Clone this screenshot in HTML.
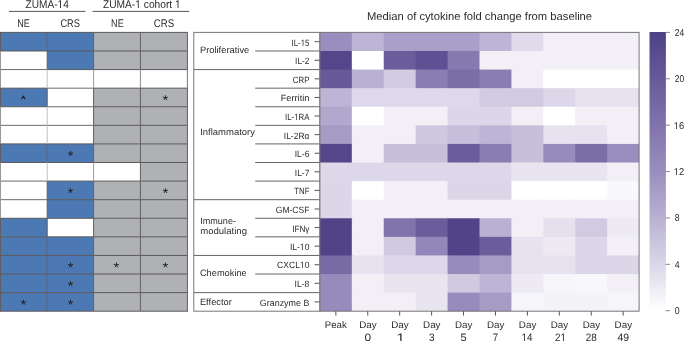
<!DOCTYPE html>
<html><head><meta charset="utf-8"><style>
html,body{margin:0;padding:0;background:#fff;}
svg{display:block;will-change:transform;text-rendering:geometricPrecision;}
</style></head><body>
<svg width="685" height="341" viewBox="0 0 685 341" font-family='"Liberation Sans", sans-serif' fill="#2b2b2b">
<rect width="685" height="341" fill="#fff"/>
<rect x="0.50" y="32.40" width="46.70" height="18.587" fill="#4c78b4"/>
<rect x="47.20" y="32.40" width="46.40" height="18.587" fill="#4c78b4"/>
<rect x="93.60" y="32.40" width="46.80" height="18.587" fill="#b0b1b4"/>
<rect x="140.40" y="32.40" width="47.00" height="18.587" fill="#b0b1b4"/>
<rect x="47.20" y="50.99" width="46.40" height="18.587" fill="#4c78b4"/>
<rect x="93.60" y="50.99" width="46.80" height="18.587" fill="#b0b1b4"/>
<rect x="140.40" y="50.99" width="47.00" height="18.587" fill="#b0b1b4"/>
<rect x="0.50" y="88.16" width="46.70" height="18.587" fill="#4c78b4"/>
<rect x="93.60" y="88.16" width="46.80" height="18.587" fill="#b0b1b4"/>
<rect x="140.40" y="88.16" width="47.00" height="18.587" fill="#b0b1b4"/>
<rect x="93.60" y="106.75" width="46.80" height="18.587" fill="#b0b1b4"/>
<rect x="140.40" y="106.75" width="47.00" height="18.587" fill="#b0b1b4"/>
<rect x="93.60" y="125.33" width="46.80" height="18.587" fill="#b0b1b4"/>
<rect x="140.40" y="125.33" width="47.00" height="18.587" fill="#b0b1b4"/>
<rect x="0.50" y="143.92" width="46.70" height="18.587" fill="#4c78b4"/>
<rect x="47.20" y="143.92" width="46.40" height="18.587" fill="#4c78b4"/>
<rect x="93.60" y="143.92" width="46.80" height="18.587" fill="#b0b1b4"/>
<rect x="140.40" y="143.92" width="47.00" height="18.587" fill="#b0b1b4"/>
<rect x="140.40" y="162.51" width="47.00" height="18.587" fill="#b0b1b4"/>
<rect x="47.20" y="181.09" width="46.40" height="18.587" fill="#4c78b4"/>
<rect x="93.60" y="181.09" width="46.80" height="18.587" fill="#b0b1b4"/>
<rect x="140.40" y="181.09" width="47.00" height="18.587" fill="#b0b1b4"/>
<rect x="47.20" y="199.68" width="46.40" height="18.587" fill="#4c78b4"/>
<rect x="93.60" y="199.68" width="46.80" height="18.587" fill="#b0b1b4"/>
<rect x="140.40" y="199.68" width="47.00" height="18.587" fill="#b0b1b4"/>
<rect x="0.50" y="218.27" width="46.70" height="18.587" fill="#4c78b4"/>
<rect x="93.60" y="218.27" width="46.80" height="18.587" fill="#b0b1b4"/>
<rect x="140.40" y="218.27" width="47.00" height="18.587" fill="#b0b1b4"/>
<rect x="0.50" y="236.85" width="46.70" height="18.587" fill="#4c78b4"/>
<rect x="47.20" y="236.85" width="46.40" height="18.587" fill="#4c78b4"/>
<rect x="93.60" y="236.85" width="46.80" height="18.587" fill="#b0b1b4"/>
<rect x="140.40" y="236.85" width="47.00" height="18.587" fill="#b0b1b4"/>
<rect x="0.50" y="255.44" width="46.70" height="18.587" fill="#4c78b4"/>
<rect x="47.20" y="255.44" width="46.40" height="18.587" fill="#4c78b4"/>
<rect x="93.60" y="255.44" width="46.80" height="18.587" fill="#b0b1b4"/>
<rect x="140.40" y="255.44" width="47.00" height="18.587" fill="#b0b1b4"/>
<rect x="0.50" y="274.03" width="46.70" height="18.587" fill="#4c78b4"/>
<rect x="47.20" y="274.03" width="46.40" height="18.587" fill="#4c78b4"/>
<rect x="93.60" y="274.03" width="46.80" height="18.587" fill="#b0b1b4"/>
<rect x="140.40" y="274.03" width="47.00" height="18.587" fill="#b0b1b4"/>
<rect x="0.50" y="292.61" width="46.70" height="18.587" fill="#4c78b4"/>
<rect x="47.20" y="292.61" width="46.40" height="18.587" fill="#4c78b4"/>
<rect x="93.60" y="292.61" width="46.80" height="18.587" fill="#b0b1b4"/>
<rect x="140.40" y="292.61" width="47.00" height="18.587" fill="#b0b1b4"/>
<line x1="0.0" y1="32.40" x2="47.2" y2="32.40" stroke="#5a5a5a" stroke-width="1"/>
<line x1="47.2" y1="32.40" x2="93.6" y2="32.40" stroke="#5a5a5a" stroke-width="1"/>
<line x1="93.6" y1="32.40" x2="140.4" y2="32.40" stroke="#5a5a5a" stroke-width="1"/>
<line x1="140.4" y1="32.40" x2="187.9" y2="32.40" stroke="#5a5a5a" stroke-width="1"/>
<line x1="0.0" y1="50.99" x2="47.2" y2="50.99" stroke="#5a5a5a" stroke-width="1"/>
<line x1="47.2" y1="50.99" x2="93.6" y2="50.99" stroke="#5a5a5a" stroke-width="1"/>
<line x1="93.6" y1="50.99" x2="140.4" y2="50.99" stroke="#5a5a5a" stroke-width="1"/>
<line x1="140.4" y1="50.99" x2="187.9" y2="50.99" stroke="#5a5a5a" stroke-width="1"/>
<line x1="0.0" y1="69.57" x2="47.2" y2="69.57" stroke="#6a6a6a" stroke-width="1"/>
<line x1="47.2" y1="69.57" x2="93.6" y2="69.57" stroke="#5a5a5a" stroke-width="1"/>
<line x1="93.6" y1="69.57" x2="140.4" y2="69.57" stroke="#5a5a5a" stroke-width="1"/>
<line x1="140.4" y1="69.57" x2="187.9" y2="69.57" stroke="#5a5a5a" stroke-width="1"/>
<line x1="0.0" y1="88.16" x2="47.2" y2="88.16" stroke="#5a5a5a" stroke-width="1"/>
<line x1="47.2" y1="88.16" x2="93.6" y2="88.16" stroke="#6a6a6a" stroke-width="1"/>
<line x1="93.6" y1="88.16" x2="140.4" y2="88.16" stroke="#5a5a5a" stroke-width="1"/>
<line x1="140.4" y1="88.16" x2="187.9" y2="88.16" stroke="#5a5a5a" stroke-width="1"/>
<line x1="0.0" y1="106.75" x2="47.2" y2="106.75" stroke="#5a5a5a" stroke-width="1"/>
<line x1="47.2" y1="106.75" x2="93.6" y2="106.75" stroke="#6a6a6a" stroke-width="1"/>
<line x1="93.6" y1="106.75" x2="140.4" y2="106.75" stroke="#5a5a5a" stroke-width="1"/>
<line x1="140.4" y1="106.75" x2="187.9" y2="106.75" stroke="#5a5a5a" stroke-width="1"/>
<line x1="0.0" y1="125.33" x2="47.2" y2="125.33" stroke="#6a6a6a" stroke-width="1"/>
<line x1="47.2" y1="125.33" x2="93.6" y2="125.33" stroke="#6a6a6a" stroke-width="1"/>
<line x1="93.6" y1="125.33" x2="140.4" y2="125.33" stroke="#5a5a5a" stroke-width="1"/>
<line x1="140.4" y1="125.33" x2="187.9" y2="125.33" stroke="#5a5a5a" stroke-width="1"/>
<line x1="0.0" y1="143.92" x2="47.2" y2="143.92" stroke="#5a5a5a" stroke-width="1"/>
<line x1="47.2" y1="143.92" x2="93.6" y2="143.92" stroke="#5a5a5a" stroke-width="1"/>
<line x1="93.6" y1="143.92" x2="140.4" y2="143.92" stroke="#5a5a5a" stroke-width="1"/>
<line x1="140.4" y1="143.92" x2="187.9" y2="143.92" stroke="#5a5a5a" stroke-width="1"/>
<line x1="0.0" y1="162.51" x2="47.2" y2="162.51" stroke="#5a5a5a" stroke-width="1"/>
<line x1="47.2" y1="162.51" x2="93.6" y2="162.51" stroke="#5a5a5a" stroke-width="1"/>
<line x1="93.6" y1="162.51" x2="140.4" y2="162.51" stroke="#5a5a5a" stroke-width="1"/>
<line x1="140.4" y1="162.51" x2="187.9" y2="162.51" stroke="#5a5a5a" stroke-width="1"/>
<line x1="0.0" y1="181.09" x2="47.2" y2="181.09" stroke="#6a6a6a" stroke-width="1"/>
<line x1="47.2" y1="181.09" x2="93.6" y2="181.09" stroke="#5a5a5a" stroke-width="1"/>
<line x1="93.6" y1="181.09" x2="140.4" y2="181.09" stroke="#5a5a5a" stroke-width="1"/>
<line x1="140.4" y1="181.09" x2="187.9" y2="181.09" stroke="#5a5a5a" stroke-width="1"/>
<line x1="0.0" y1="199.68" x2="47.2" y2="199.68" stroke="#6a6a6a" stroke-width="1"/>
<line x1="47.2" y1="199.68" x2="93.6" y2="199.68" stroke="#5a5a5a" stroke-width="1"/>
<line x1="93.6" y1="199.68" x2="140.4" y2="199.68" stroke="#5a5a5a" stroke-width="1"/>
<line x1="140.4" y1="199.68" x2="187.9" y2="199.68" stroke="#5a5a5a" stroke-width="1"/>
<line x1="0.0" y1="218.27" x2="47.2" y2="218.27" stroke="#5a5a5a" stroke-width="1"/>
<line x1="47.2" y1="218.27" x2="93.6" y2="218.27" stroke="#5a5a5a" stroke-width="1"/>
<line x1="93.6" y1="218.27" x2="140.4" y2="218.27" stroke="#5a5a5a" stroke-width="1"/>
<line x1="140.4" y1="218.27" x2="187.9" y2="218.27" stroke="#5a5a5a" stroke-width="1"/>
<line x1="0.0" y1="236.85" x2="47.2" y2="236.85" stroke="#5a5a5a" stroke-width="1"/>
<line x1="47.2" y1="236.85" x2="93.6" y2="236.85" stroke="#5a5a5a" stroke-width="1"/>
<line x1="93.6" y1="236.85" x2="140.4" y2="236.85" stroke="#5a5a5a" stroke-width="1"/>
<line x1="140.4" y1="236.85" x2="187.9" y2="236.85" stroke="#5a5a5a" stroke-width="1"/>
<line x1="0.0" y1="255.44" x2="47.2" y2="255.44" stroke="#5a5a5a" stroke-width="1"/>
<line x1="47.2" y1="255.44" x2="93.6" y2="255.44" stroke="#5a5a5a" stroke-width="1"/>
<line x1="93.6" y1="255.44" x2="140.4" y2="255.44" stroke="#5a5a5a" stroke-width="1"/>
<line x1="140.4" y1="255.44" x2="187.9" y2="255.44" stroke="#5a5a5a" stroke-width="1"/>
<line x1="0.0" y1="274.03" x2="47.2" y2="274.03" stroke="#5a5a5a" stroke-width="1"/>
<line x1="47.2" y1="274.03" x2="93.6" y2="274.03" stroke="#5a5a5a" stroke-width="1"/>
<line x1="93.6" y1="274.03" x2="140.4" y2="274.03" stroke="#5a5a5a" stroke-width="1"/>
<line x1="140.4" y1="274.03" x2="187.9" y2="274.03" stroke="#5a5a5a" stroke-width="1"/>
<line x1="0.0" y1="292.61" x2="47.2" y2="292.61" stroke="#5a5a5a" stroke-width="1"/>
<line x1="47.2" y1="292.61" x2="93.6" y2="292.61" stroke="#5a5a5a" stroke-width="1"/>
<line x1="93.6" y1="292.61" x2="140.4" y2="292.61" stroke="#5a5a5a" stroke-width="1"/>
<line x1="140.4" y1="292.61" x2="187.9" y2="292.61" stroke="#5a5a5a" stroke-width="1"/>
<line x1="0.0" y1="311.20" x2="47.2" y2="311.20" stroke="#5a5a5a" stroke-width="1"/>
<line x1="47.2" y1="311.20" x2="93.6" y2="311.20" stroke="#5a5a5a" stroke-width="1"/>
<line x1="93.6" y1="311.20" x2="140.4" y2="311.20" stroke="#5a5a5a" stroke-width="1"/>
<line x1="140.4" y1="311.20" x2="187.9" y2="311.20" stroke="#5a5a5a" stroke-width="1"/>
<line x1="0.5" y1="32.40" x2="0.5" y2="50.99" stroke="#5f5f5f" stroke-width="1"/>
<line x1="0.5" y1="50.99" x2="0.5" y2="69.57" stroke="#999999" stroke-width="1"/>
<line x1="0.5" y1="69.57" x2="0.5" y2="88.16" stroke="#999999" stroke-width="1"/>
<line x1="0.5" y1="88.16" x2="0.5" y2="106.75" stroke="#5f5f5f" stroke-width="1"/>
<line x1="0.5" y1="106.75" x2="0.5" y2="125.33" stroke="#999999" stroke-width="1"/>
<line x1="0.5" y1="125.33" x2="0.5" y2="143.92" stroke="#999999" stroke-width="1"/>
<line x1="0.5" y1="143.92" x2="0.5" y2="162.51" stroke="#5f5f5f" stroke-width="1"/>
<line x1="0.5" y1="162.51" x2="0.5" y2="181.09" stroke="#999999" stroke-width="1"/>
<line x1="0.5" y1="181.09" x2="0.5" y2="199.68" stroke="#999999" stroke-width="1"/>
<line x1="0.5" y1="199.68" x2="0.5" y2="218.27" stroke="#999999" stroke-width="1"/>
<line x1="0.5" y1="218.27" x2="0.5" y2="236.85" stroke="#5f5f5f" stroke-width="1"/>
<line x1="0.5" y1="236.85" x2="0.5" y2="255.44" stroke="#5f5f5f" stroke-width="1"/>
<line x1="0.5" y1="255.44" x2="0.5" y2="274.03" stroke="#5f5f5f" stroke-width="1"/>
<line x1="0.5" y1="274.03" x2="0.5" y2="292.61" stroke="#5f5f5f" stroke-width="1"/>
<line x1="0.5" y1="292.61" x2="0.5" y2="311.20" stroke="#5f5f5f" stroke-width="1"/>
<line x1="47.2" y1="32.40" x2="47.2" y2="50.99" stroke="#5f5f5f" stroke-width="1"/>
<line x1="47.2" y1="50.99" x2="47.2" y2="69.57" stroke="#5f5f5f" stroke-width="1"/>
<line x1="47.2" y1="69.57" x2="47.2" y2="88.16" stroke="#c0c0c0" stroke-width="1"/>
<line x1="47.2" y1="88.16" x2="47.2" y2="106.75" stroke="#5f5f5f" stroke-width="1"/>
<line x1="47.2" y1="106.75" x2="47.2" y2="125.33" stroke="#c0c0c0" stroke-width="1"/>
<line x1="47.2" y1="125.33" x2="47.2" y2="143.92" stroke="#c0c0c0" stroke-width="1"/>
<line x1="47.2" y1="143.92" x2="47.2" y2="162.51" stroke="#5f5f5f" stroke-width="1"/>
<line x1="47.2" y1="162.51" x2="47.2" y2="181.09" stroke="#c0c0c0" stroke-width="1"/>
<line x1="47.2" y1="181.09" x2="47.2" y2="199.68" stroke="#5f5f5f" stroke-width="1"/>
<line x1="47.2" y1="199.68" x2="47.2" y2="218.27" stroke="#5f5f5f" stroke-width="1"/>
<line x1="47.2" y1="218.27" x2="47.2" y2="236.85" stroke="#5f5f5f" stroke-width="1"/>
<line x1="47.2" y1="236.85" x2="47.2" y2="255.44" stroke="#5f5f5f" stroke-width="1"/>
<line x1="47.2" y1="255.44" x2="47.2" y2="274.03" stroke="#5f5f5f" stroke-width="1"/>
<line x1="47.2" y1="274.03" x2="47.2" y2="292.61" stroke="#5f5f5f" stroke-width="1"/>
<line x1="47.2" y1="292.61" x2="47.2" y2="311.20" stroke="#5f5f5f" stroke-width="1"/>
<line x1="93.6" y1="32.40" x2="93.6" y2="50.99" stroke="#5f5f5f" stroke-width="1"/>
<line x1="93.6" y1="50.99" x2="93.6" y2="69.57" stroke="#5f5f5f" stroke-width="1"/>
<line x1="93.6" y1="69.57" x2="93.6" y2="88.16" stroke="#9a9a9a" stroke-width="1"/>
<line x1="93.6" y1="88.16" x2="93.6" y2="106.75" stroke="#5f5f5f" stroke-width="1"/>
<line x1="93.6" y1="106.75" x2="93.6" y2="125.33" stroke="#5f5f5f" stroke-width="1"/>
<line x1="93.6" y1="125.33" x2="93.6" y2="143.92" stroke="#5f5f5f" stroke-width="1"/>
<line x1="93.6" y1="143.92" x2="93.6" y2="162.51" stroke="#5f5f5f" stroke-width="1"/>
<line x1="93.6" y1="162.51" x2="93.6" y2="181.09" stroke="#9a9a9a" stroke-width="1"/>
<line x1="93.6" y1="181.09" x2="93.6" y2="199.68" stroke="#5f5f5f" stroke-width="1"/>
<line x1="93.6" y1="199.68" x2="93.6" y2="218.27" stroke="#5f5f5f" stroke-width="1"/>
<line x1="93.6" y1="218.27" x2="93.6" y2="236.85" stroke="#5f5f5f" stroke-width="1"/>
<line x1="93.6" y1="236.85" x2="93.6" y2="255.44" stroke="#5f5f5f" stroke-width="1"/>
<line x1="93.6" y1="255.44" x2="93.6" y2="274.03" stroke="#5f5f5f" stroke-width="1"/>
<line x1="93.6" y1="274.03" x2="93.6" y2="292.61" stroke="#5f5f5f" stroke-width="1"/>
<line x1="93.6" y1="292.61" x2="93.6" y2="311.20" stroke="#5f5f5f" stroke-width="1"/>
<line x1="140.4" y1="32.40" x2="140.4" y2="50.99" stroke="#5f5f5f" stroke-width="1"/>
<line x1="140.4" y1="50.99" x2="140.4" y2="69.57" stroke="#5f5f5f" stroke-width="1"/>
<line x1="140.4" y1="69.57" x2="140.4" y2="88.16" stroke="#8a8a8a" stroke-width="1"/>
<line x1="140.4" y1="88.16" x2="140.4" y2="106.75" stroke="#5f5f5f" stroke-width="1"/>
<line x1="140.4" y1="106.75" x2="140.4" y2="125.33" stroke="#5f5f5f" stroke-width="1"/>
<line x1="140.4" y1="125.33" x2="140.4" y2="143.92" stroke="#5f5f5f" stroke-width="1"/>
<line x1="140.4" y1="143.92" x2="140.4" y2="162.51" stroke="#5f5f5f" stroke-width="1"/>
<line x1="140.4" y1="162.51" x2="140.4" y2="181.09" stroke="#5f5f5f" stroke-width="1"/>
<line x1="140.4" y1="181.09" x2="140.4" y2="199.68" stroke="#5f5f5f" stroke-width="1"/>
<line x1="140.4" y1="199.68" x2="140.4" y2="218.27" stroke="#5f5f5f" stroke-width="1"/>
<line x1="140.4" y1="218.27" x2="140.4" y2="236.85" stroke="#5f5f5f" stroke-width="1"/>
<line x1="140.4" y1="236.85" x2="140.4" y2="255.44" stroke="#5f5f5f" stroke-width="1"/>
<line x1="140.4" y1="255.44" x2="140.4" y2="274.03" stroke="#5f5f5f" stroke-width="1"/>
<line x1="140.4" y1="274.03" x2="140.4" y2="292.61" stroke="#5f5f5f" stroke-width="1"/>
<line x1="140.4" y1="292.61" x2="140.4" y2="311.20" stroke="#5f5f5f" stroke-width="1"/>
<line x1="187.4" y1="32.40" x2="187.4" y2="50.99" stroke="#5f5f5f" stroke-width="1"/>
<line x1="187.4" y1="50.99" x2="187.4" y2="69.57" stroke="#5f5f5f" stroke-width="1"/>
<line x1="187.4" y1="69.57" x2="187.4" y2="88.16" stroke="#777777" stroke-width="1"/>
<line x1="187.4" y1="88.16" x2="187.4" y2="106.75" stroke="#5f5f5f" stroke-width="1"/>
<line x1="187.4" y1="106.75" x2="187.4" y2="125.33" stroke="#5f5f5f" stroke-width="1"/>
<line x1="187.4" y1="125.33" x2="187.4" y2="143.92" stroke="#5f5f5f" stroke-width="1"/>
<line x1="187.4" y1="143.92" x2="187.4" y2="162.51" stroke="#5f5f5f" stroke-width="1"/>
<line x1="187.4" y1="162.51" x2="187.4" y2="181.09" stroke="#5f5f5f" stroke-width="1"/>
<line x1="187.4" y1="181.09" x2="187.4" y2="199.68" stroke="#5f5f5f" stroke-width="1"/>
<line x1="187.4" y1="199.68" x2="187.4" y2="218.27" stroke="#5f5f5f" stroke-width="1"/>
<line x1="187.4" y1="218.27" x2="187.4" y2="236.85" stroke="#5f5f5f" stroke-width="1"/>
<line x1="187.4" y1="236.85" x2="187.4" y2="255.44" stroke="#5f5f5f" stroke-width="1"/>
<line x1="187.4" y1="255.44" x2="187.4" y2="274.03" stroke="#5f5f5f" stroke-width="1"/>
<line x1="187.4" y1="274.03" x2="187.4" y2="292.61" stroke="#5f5f5f" stroke-width="1"/>
<line x1="187.4" y1="292.61" x2="187.4" y2="311.20" stroke="#5f5f5f" stroke-width="1"/>
<path d="M21.65 98.75L23.45 96.15L24.95 98.75" stroke="#1e1e1e" stroke-width="1.1" stroke-linecap="round" stroke-linejoin="round" fill="none"/>
<path d="M165.40 97.90L165.40 95.65M165.40 97.90L167.54 97.21M165.40 97.90L166.72 99.72M165.40 97.90L164.08 99.72M165.40 97.90L163.26 97.21" stroke="#222" stroke-width="0.95" stroke-linecap="round" fill="none"/>
<path d="M70.50 153.66L70.50 151.41M70.50 153.66L72.64 152.97M70.50 153.66L71.82 155.48M70.50 153.66L69.18 155.48M70.50 153.66L68.36 152.97" stroke="#222" stroke-width="0.95" stroke-linecap="round" fill="none"/>
<path d="M70.50 190.84L70.50 188.59M70.50 190.84L72.64 190.14M70.50 190.84L71.82 192.66M70.50 190.84L69.18 192.66M70.50 190.84L68.36 190.14" stroke="#222" stroke-width="0.95" stroke-linecap="round" fill="none"/>
<path d="M165.40 190.84L165.40 188.59M165.40 190.84L167.54 190.14M165.40 190.84L166.72 192.66M165.40 190.84L164.08 192.66M165.40 190.84L163.26 190.14" stroke="#222" stroke-width="0.95" stroke-linecap="round" fill="none"/>
<path d="M70.50 265.18L70.50 262.93M70.50 265.18L72.64 264.49M70.50 265.18L71.82 267.00M70.50 265.18L69.18 267.00M70.50 265.18L68.36 264.49" stroke="#222" stroke-width="0.95" stroke-linecap="round" fill="none"/>
<path d="M116.40 265.18L116.40 262.93M116.40 265.18L118.54 264.49M116.40 265.18L117.72 267.00M116.40 265.18L115.08 267.00M116.40 265.18L114.26 264.49" stroke="#222" stroke-width="0.95" stroke-linecap="round" fill="none"/>
<path d="M165.40 265.18L165.40 262.93M165.40 265.18L167.54 264.49M165.40 265.18L166.72 267.00M165.40 265.18L164.08 267.00M165.40 265.18L163.26 264.49" stroke="#222" stroke-width="0.95" stroke-linecap="round" fill="none"/>
<path d="M70.50 283.77L70.50 281.52M70.50 283.77L72.64 283.07M70.50 283.77L71.82 285.59M70.50 283.77L69.18 285.59M70.50 283.77L68.36 283.07" stroke="#222" stroke-width="0.95" stroke-linecap="round" fill="none"/>
<path d="M23.40 302.36L23.40 300.11M23.40 302.36L25.54 301.66M23.40 302.36L24.72 304.18M23.40 302.36L22.08 304.18M23.40 302.36L21.26 301.66" stroke="#222" stroke-width="0.95" stroke-linecap="round" fill="none"/>
<path d="M70.50 302.36L70.50 300.11M70.50 302.36L72.64 301.66M70.50 302.36L71.82 304.18M70.50 302.36L69.18 304.18M70.50 302.36L68.36 301.66" stroke="#222" stroke-width="0.95" stroke-linecap="round" fill="none"/>
<text x="25.60" y="8.00" font-size="11.2" textLength="43.15" lengthAdjust="spacingAndGlyphs">ZUMA-14</text>
<text x="102.90" y="8.00" font-size="11.2" textLength="77.81" lengthAdjust="spacingAndGlyphs">ZUMA-1 cohort 1</text>
<line x1="9" y1="11.4" x2="85.5" y2="11.4" stroke="#555" stroke-width="1"/>
<line x1="92.5" y1="11.4" x2="189.2" y2="11.4" stroke="#555" stroke-width="1"/>
<text x="17.20" y="26.70" font-size="11.2" textLength="12.60" lengthAdjust="spacingAndGlyphs">NE</text>
<text x="60.40" y="26.70" font-size="11.2" textLength="19.50" lengthAdjust="spacingAndGlyphs">CRS</text>
<text x="111.10" y="26.70" font-size="11.2" textLength="12.60" lengthAdjust="spacingAndGlyphs">NE</text>
<text x="153.80" y="26.70" font-size="11.2" textLength="20.30" lengthAdjust="spacingAndGlyphs">CRS</text>
<text x="367.00" y="20.00" font-size="11.2" textLength="225.11" lengthAdjust="spacingAndGlyphs">Median of cytokine fold change from baseline</text>
<rect x="193.8" y="32.4" width="126.09999999999997" height="278.8" fill="none" stroke="#777" stroke-width="1"/>
<line x1="255.2" y1="50.99" x2="319.9" y2="50.99" stroke="#666" stroke-width="1"/>
<line x1="193.8" y1="69.57" x2="319.9" y2="69.57" stroke="#666" stroke-width="1"/>
<line x1="255.2" y1="88.16" x2="319.9" y2="88.16" stroke="#666" stroke-width="1"/>
<line x1="255.2" y1="106.75" x2="319.9" y2="106.75" stroke="#666" stroke-width="1"/>
<line x1="255.2" y1="125.33" x2="319.9" y2="125.33" stroke="#666" stroke-width="1"/>
<line x1="255.2" y1="143.92" x2="319.9" y2="143.92" stroke="#666" stroke-width="1"/>
<line x1="255.2" y1="162.51" x2="319.9" y2="162.51" stroke="#666" stroke-width="1"/>
<line x1="255.2" y1="181.09" x2="319.9" y2="181.09" stroke="#666" stroke-width="1"/>
<line x1="193.8" y1="199.68" x2="319.9" y2="199.68" stroke="#666" stroke-width="1"/>
<line x1="255.2" y1="218.27" x2="319.9" y2="218.27" stroke="#666" stroke-width="1"/>
<line x1="255.2" y1="236.85" x2="319.9" y2="236.85" stroke="#666" stroke-width="1"/>
<line x1="193.8" y1="255.44" x2="319.9" y2="255.44" stroke="#666" stroke-width="1"/>
<line x1="255.2" y1="274.03" x2="319.9" y2="274.03" stroke="#666" stroke-width="1"/>
<line x1="193.8" y1="292.61" x2="319.9" y2="292.61" stroke="#666" stroke-width="1"/>
<text x="199.90" y="53.30" font-size="9.2" textLength="49.40" lengthAdjust="spacingAndGlyphs">Proliferative</text>
<text x="200.20" y="134.50" font-size="9.2" textLength="54.80" lengthAdjust="spacingAndGlyphs">Inflammatory</text>
<text x="200.20" y="224.10" font-size="9.2" textLength="35.80" lengthAdjust="spacingAndGlyphs">Immune-</text>
<text x="200.20" y="234.30" font-size="9.2" textLength="46.80" lengthAdjust="spacingAndGlyphs">modulating</text>
<text x="199.90" y="276.10" font-size="9.2" textLength="46.90" lengthAdjust="spacingAndGlyphs">Chemokine</text>
<text x="199.90" y="304.60" font-size="9.2" textLength="32.00" lengthAdjust="spacingAndGlyphs">Effector</text>
<text x="291.50" y="45.59" font-size="9.1" textLength="17.90" lengthAdjust="spacingAndGlyphs">IL-15</text>
<line x1="314.6" y1="41.69" x2="319.9" y2="41.69" stroke="#555" stroke-width="1"/>
<text x="295.10" y="64.18" font-size="9.1" textLength="14.30" lengthAdjust="spacingAndGlyphs">IL-2</text>
<line x1="314.6" y1="60.28" x2="319.9" y2="60.28" stroke="#555" stroke-width="1"/>
<text x="292.80" y="82.77" font-size="9.1" textLength="16.60" lengthAdjust="spacingAndGlyphs">CRP</text>
<line x1="314.6" y1="78.87" x2="319.9" y2="78.87" stroke="#555" stroke-width="1"/>
<text x="280.70" y="101.35" font-size="9.1" textLength="28.70" lengthAdjust="spacingAndGlyphs">Ferritin</text>
<line x1="314.6" y1="97.45" x2="319.9" y2="97.45" stroke="#555" stroke-width="1"/>
<text x="285.00" y="119.94" font-size="9.1" textLength="24.40" lengthAdjust="spacingAndGlyphs">IL-1RA</text>
<line x1="314.6" y1="116.04" x2="319.9" y2="116.04" stroke="#555" stroke-width="1"/>
<text x="283.80" y="138.53" font-size="9.1" textLength="25.60" lengthAdjust="spacingAndGlyphs">IL-2Rα</text>
<line x1="314.6" y1="134.63" x2="319.9" y2="134.63" stroke="#555" stroke-width="1"/>
<text x="294.70" y="157.11" font-size="9.1" textLength="14.70" lengthAdjust="spacingAndGlyphs">IL-6</text>
<line x1="314.6" y1="153.21" x2="319.9" y2="153.21" stroke="#555" stroke-width="1"/>
<text x="294.80" y="175.70" font-size="9.1" textLength="14.60" lengthAdjust="spacingAndGlyphs">IL-7</text>
<line x1="314.6" y1="171.80" x2="319.9" y2="171.80" stroke="#555" stroke-width="1"/>
<text x="294.30" y="194.29" font-size="9.1" textLength="15.10" lengthAdjust="spacingAndGlyphs">TNF</text>
<line x1="314.6" y1="190.39" x2="319.9" y2="190.39" stroke="#555" stroke-width="1"/>
<text x="275.80" y="212.87" font-size="9.1" textLength="33.60" lengthAdjust="spacingAndGlyphs">GM-CSF</text>
<line x1="314.6" y1="208.97" x2="319.9" y2="208.97" stroke="#555" stroke-width="1"/>
<text x="292.20" y="232.06" font-size="9.1" textLength="17.20" lengthAdjust="spacingAndGlyphs">IFNγ</text>
<line x1="314.6" y1="227.56" x2="319.9" y2="227.56" stroke="#555" stroke-width="1"/>
<text x="289.90" y="250.05" font-size="9.1" textLength="19.50" lengthAdjust="spacingAndGlyphs">IL-10</text>
<line x1="314.6" y1="246.15" x2="319.9" y2="246.15" stroke="#555" stroke-width="1"/>
<text x="277.10" y="268.13" font-size="9.1" textLength="32.30" lengthAdjust="spacingAndGlyphs">CXCL10</text>
<line x1="314.6" y1="264.73" x2="319.9" y2="264.73" stroke="#555" stroke-width="1"/>
<text x="294.50" y="287.22" font-size="9.1" textLength="14.90" lengthAdjust="spacingAndGlyphs">IL-8</text>
<line x1="314.6" y1="283.32" x2="319.9" y2="283.32" stroke="#555" stroke-width="1"/>
<text x="259.80" y="305.81" font-size="9.1" textLength="49.60" lengthAdjust="spacingAndGlyphs">Granzyme B</text>
<line x1="314.6" y1="301.91" x2="319.9" y2="301.91" stroke="#555" stroke-width="1"/>
<rect x="319.90" y="32.40" width="32.92" height="19.59" fill="#998ebd"/>
<rect x="351.82" y="32.40" width="32.92" height="19.59" fill="#bdb5d5"/>
<rect x="383.74" y="32.40" width="32.92" height="19.59" fill="#a99fc8"/>
<rect x="415.66" y="32.40" width="32.92" height="19.59" fill="#a99fc8"/>
<rect x="447.58" y="32.40" width="32.92" height="19.59" fill="#a99fc8"/>
<rect x="479.50" y="32.40" width="32.92" height="19.59" fill="#bdb5d5"/>
<rect x="511.42" y="32.40" width="32.92" height="19.59" fill="#e0dbeb"/>
<rect x="543.34" y="32.40" width="32.92" height="19.59" fill="#f2f0f6"/>
<rect x="575.26" y="32.40" width="32.92" height="19.59" fill="#f2f0f6"/>
<rect x="607.18" y="32.40" width="31.92" height="19.59" fill="#f2f0f6"/>
<rect x="319.90" y="50.99" width="32.92" height="19.59" fill="#54468b"/>
<rect x="351.82" y="50.99" width="32.92" height="19.59" fill="#ffffff"/>
<rect x="383.74" y="50.99" width="32.92" height="19.59" fill="#6b5d9b"/>
<rect x="415.66" y="50.99" width="32.92" height="19.59" fill="#5e5092"/>
<rect x="447.58" y="50.99" width="32.92" height="19.59" fill="#877ab0"/>
<rect x="479.50" y="50.99" width="32.92" height="19.59" fill="#f2f0f6"/>
<rect x="511.42" y="50.99" width="32.92" height="19.59" fill="#f2f0f6"/>
<rect x="543.34" y="50.99" width="32.92" height="19.59" fill="#f2f0f6"/>
<rect x="575.26" y="50.99" width="32.92" height="19.59" fill="#f2f0f6"/>
<rect x="607.18" y="50.99" width="31.92" height="19.59" fill="#f2f0f6"/>
<rect x="319.90" y="69.57" width="32.92" height="19.59" fill="#685a99"/>
<rect x="351.82" y="69.57" width="32.92" height="19.59" fill="#b9b0d2"/>
<rect x="383.74" y="69.57" width="32.92" height="19.59" fill="#d2cce2"/>
<rect x="415.66" y="69.57" width="32.92" height="19.59" fill="#8a7db2"/>
<rect x="447.58" y="69.57" width="32.92" height="19.59" fill="#7b6da7"/>
<rect x="479.50" y="69.57" width="32.92" height="19.59" fill="#8a7db2"/>
<rect x="511.42" y="69.57" width="32.92" height="19.59" fill="#f2f0f6"/>
<rect x="543.34" y="69.57" width="32.92" height="19.59" fill="#ffffff"/>
<rect x="575.26" y="69.57" width="32.92" height="19.59" fill="#ffffff"/>
<rect x="607.18" y="69.57" width="31.92" height="19.59" fill="#ffffff"/>
<rect x="319.90" y="88.16" width="32.92" height="19.59" fill="#bdb5d5"/>
<rect x="351.82" y="88.16" width="32.92" height="19.59" fill="#ded9ea"/>
<rect x="383.74" y="88.16" width="32.92" height="19.59" fill="#ded9ea"/>
<rect x="415.66" y="88.16" width="32.92" height="19.59" fill="#ded9ea"/>
<rect x="447.58" y="88.16" width="32.92" height="19.59" fill="#ded9ea"/>
<rect x="479.50" y="88.16" width="32.92" height="19.59" fill="#d1cbe1"/>
<rect x="511.42" y="88.16" width="32.92" height="19.59" fill="#d1cbe1"/>
<rect x="543.34" y="88.16" width="32.92" height="19.59" fill="#ddd8e9"/>
<rect x="575.26" y="88.16" width="32.92" height="19.59" fill="#e6e2ef"/>
<rect x="607.18" y="88.16" width="31.92" height="19.59" fill="#e6e2ef"/>
<rect x="319.90" y="106.75" width="32.92" height="19.59" fill="#b1a8cd"/>
<rect x="351.82" y="106.75" width="32.92" height="19.59" fill="#ffffff"/>
<rect x="383.74" y="106.75" width="32.92" height="19.59" fill="#f2f0f6"/>
<rect x="415.66" y="106.75" width="32.92" height="19.59" fill="#f2f0f6"/>
<rect x="447.58" y="106.75" width="32.92" height="19.59" fill="#dbd6e8"/>
<rect x="479.50" y="106.75" width="32.92" height="19.59" fill="#dbd6e8"/>
<rect x="511.42" y="106.75" width="32.92" height="19.59" fill="#f2f0f6"/>
<rect x="543.34" y="106.75" width="32.92" height="19.59" fill="#ffffff"/>
<rect x="575.26" y="106.75" width="32.92" height="19.59" fill="#f2f0f6"/>
<rect x="607.18" y="106.75" width="31.92" height="19.59" fill="#f2f0f6"/>
<rect x="319.90" y="125.33" width="32.92" height="19.59" fill="#a59bc5"/>
<rect x="351.82" y="125.33" width="32.92" height="19.59" fill="#f2f0f6"/>
<rect x="383.74" y="125.33" width="32.92" height="19.59" fill="#f2f0f6"/>
<rect x="415.66" y="125.33" width="32.92" height="19.59" fill="#cec8e0"/>
<rect x="447.58" y="125.33" width="32.92" height="19.59" fill="#c6beda"/>
<rect x="479.50" y="125.33" width="32.92" height="19.59" fill="#bdb5d5"/>
<rect x="511.42" y="125.33" width="32.92" height="19.59" fill="#c7c0db"/>
<rect x="543.34" y="125.33" width="32.92" height="19.59" fill="#e6e2ef"/>
<rect x="575.26" y="125.33" width="32.92" height="19.59" fill="#e6e2ef"/>
<rect x="607.18" y="125.33" width="31.92" height="19.59" fill="#f2f0f6"/>
<rect x="319.90" y="143.92" width="32.92" height="19.59" fill="#54468b"/>
<rect x="351.82" y="143.92" width="32.92" height="19.59" fill="#f2f0f6"/>
<rect x="383.74" y="143.92" width="32.92" height="19.59" fill="#c6beda"/>
<rect x="415.66" y="143.92" width="32.92" height="19.59" fill="#c6beda"/>
<rect x="447.58" y="143.92" width="32.92" height="19.59" fill="#6b5d9b"/>
<rect x="479.50" y="143.92" width="32.92" height="19.59" fill="#8a7db2"/>
<rect x="511.42" y="143.92" width="32.92" height="19.59" fill="#c7c0db"/>
<rect x="543.34" y="143.92" width="32.92" height="19.59" fill="#968bbb"/>
<rect x="575.26" y="143.92" width="32.92" height="19.59" fill="#7b6da7"/>
<rect x="607.18" y="143.92" width="31.92" height="19.59" fill="#998ebd"/>
<rect x="319.90" y="162.51" width="32.92" height="19.59" fill="#ddd8e9"/>
<rect x="351.82" y="162.51" width="32.92" height="19.59" fill="#ddd8e9"/>
<rect x="383.74" y="162.51" width="32.92" height="19.59" fill="#ddd8e9"/>
<rect x="415.66" y="162.51" width="32.92" height="19.59" fill="#ddd8e9"/>
<rect x="447.58" y="162.51" width="32.92" height="19.59" fill="#ddd8e9"/>
<rect x="479.50" y="162.51" width="32.92" height="19.59" fill="#ddd8e9"/>
<rect x="511.42" y="162.51" width="32.92" height="19.59" fill="#e8e5f1"/>
<rect x="543.34" y="162.51" width="32.92" height="19.59" fill="#e8e5f1"/>
<rect x="575.26" y="162.51" width="32.92" height="19.59" fill="#e8e5f1"/>
<rect x="607.18" y="162.51" width="31.92" height="19.59" fill="#f2f0f6"/>
<rect x="319.90" y="181.09" width="32.92" height="19.59" fill="#dbd6e8"/>
<rect x="351.82" y="181.09" width="32.92" height="19.59" fill="#ffffff"/>
<rect x="383.74" y="181.09" width="32.92" height="19.59" fill="#f2f0f6"/>
<rect x="415.66" y="181.09" width="32.92" height="19.59" fill="#f2f0f6"/>
<rect x="447.58" y="181.09" width="32.92" height="19.59" fill="#dbd6e8"/>
<rect x="479.50" y="181.09" width="32.92" height="19.59" fill="#dbd6e8"/>
<rect x="511.42" y="181.09" width="32.92" height="19.59" fill="#ffffff"/>
<rect x="543.34" y="181.09" width="32.92" height="19.59" fill="#ffffff"/>
<rect x="575.26" y="181.09" width="32.92" height="19.59" fill="#ffffff"/>
<rect x="607.18" y="181.09" width="31.92" height="19.59" fill="#f9f8fb"/>
<rect x="319.90" y="199.68" width="32.92" height="19.59" fill="#dbd6e8"/>
<rect x="351.82" y="199.68" width="32.92" height="19.59" fill="#f2f0f6"/>
<rect x="383.74" y="199.68" width="32.92" height="19.59" fill="#f2f0f6"/>
<rect x="415.66" y="199.68" width="32.92" height="19.59" fill="#f2f0f6"/>
<rect x="447.58" y="199.68" width="32.92" height="19.59" fill="#f2f0f6"/>
<rect x="479.50" y="199.68" width="32.92" height="19.59" fill="#f2f0f6"/>
<rect x="511.42" y="199.68" width="32.92" height="19.59" fill="#f2f0f6"/>
<rect x="543.34" y="199.68" width="32.92" height="19.59" fill="#f2f0f6"/>
<rect x="575.26" y="199.68" width="32.92" height="19.59" fill="#f2f0f6"/>
<rect x="607.18" y="199.68" width="31.92" height="19.59" fill="#f2f0f6"/>
<rect x="319.90" y="218.27" width="32.92" height="19.59" fill="#514388"/>
<rect x="351.82" y="218.27" width="32.92" height="19.59" fill="#f2f0f6"/>
<rect x="383.74" y="218.27" width="32.92" height="19.59" fill="#8173ac"/>
<rect x="415.66" y="218.27" width="32.92" height="19.59" fill="#6b5d9b"/>
<rect x="447.58" y="218.27" width="32.92" height="19.59" fill="#514388"/>
<rect x="479.50" y="218.27" width="32.92" height="19.59" fill="#b9b0d2"/>
<rect x="511.42" y="218.27" width="32.92" height="19.59" fill="#f2f0f6"/>
<rect x="543.34" y="218.27" width="32.92" height="19.59" fill="#e4e0ee"/>
<rect x="575.26" y="218.27" width="32.92" height="19.59" fill="#d1cbe1"/>
<rect x="607.18" y="218.27" width="31.92" height="19.59" fill="#edeaf4"/>
<rect x="319.90" y="236.85" width="32.92" height="19.59" fill="#514388"/>
<rect x="351.82" y="236.85" width="32.92" height="19.59" fill="#f2f0f6"/>
<rect x="383.74" y="236.85" width="32.92" height="19.59" fill="#d0cae1"/>
<rect x="415.66" y="236.85" width="32.92" height="19.59" fill="#9387b9"/>
<rect x="447.58" y="236.85" width="32.92" height="19.59" fill="#514388"/>
<rect x="479.50" y="236.85" width="32.92" height="19.59" fill="#6b5d9b"/>
<rect x="511.42" y="236.85" width="32.92" height="19.59" fill="#e6e2ef"/>
<rect x="543.34" y="236.85" width="32.92" height="19.59" fill="#edeaf4"/>
<rect x="575.26" y="236.85" width="32.92" height="19.59" fill="#dbd6e8"/>
<rect x="607.18" y="236.85" width="31.92" height="19.59" fill="#f2f0f6"/>
<rect x="319.90" y="255.44" width="32.92" height="19.59" fill="#786aa5"/>
<rect x="351.82" y="255.44" width="32.92" height="19.59" fill="#e6e2ef"/>
<rect x="383.74" y="255.44" width="32.92" height="19.59" fill="#ddd8e9"/>
<rect x="415.66" y="255.44" width="32.92" height="19.59" fill="#ddd8e9"/>
<rect x="447.58" y="255.44" width="32.92" height="19.59" fill="#968bbb"/>
<rect x="479.50" y="255.44" width="32.92" height="19.59" fill="#a59bc5"/>
<rect x="511.42" y="255.44" width="32.92" height="19.59" fill="#e6e2ef"/>
<rect x="543.34" y="255.44" width="32.92" height="19.59" fill="#e6e2ef"/>
<rect x="575.26" y="255.44" width="32.92" height="19.59" fill="#dbd6e8"/>
<rect x="607.18" y="255.44" width="31.92" height="19.59" fill="#dbd6e8"/>
<rect x="319.90" y="274.03" width="32.92" height="19.59" fill="#968bbb"/>
<rect x="351.82" y="274.03" width="32.92" height="19.59" fill="#f2f0f6"/>
<rect x="383.74" y="274.03" width="32.92" height="19.59" fill="#e8e5f1"/>
<rect x="415.66" y="274.03" width="32.92" height="19.59" fill="#e8e5f1"/>
<rect x="447.58" y="274.03" width="32.92" height="19.59" fill="#d0cae1"/>
<rect x="479.50" y="274.03" width="32.92" height="19.59" fill="#bdb5d5"/>
<rect x="511.42" y="274.03" width="32.92" height="19.59" fill="#edeaf4"/>
<rect x="543.34" y="274.03" width="32.92" height="19.59" fill="#f6f5f9"/>
<rect x="575.26" y="274.03" width="32.92" height="19.59" fill="#f8f7fa"/>
<rect x="607.18" y="274.03" width="31.92" height="19.59" fill="#f2f0f6"/>
<rect x="319.90" y="292.61" width="32.92" height="18.59" fill="#968bbb"/>
<rect x="351.82" y="292.61" width="32.92" height="18.59" fill="#f2f0f6"/>
<rect x="383.74" y="292.61" width="32.92" height="18.59" fill="#f2f0f6"/>
<rect x="415.66" y="292.61" width="32.92" height="18.59" fill="#e8e5f1"/>
<rect x="447.58" y="292.61" width="32.92" height="18.59" fill="#968bbb"/>
<rect x="479.50" y="292.61" width="32.92" height="18.59" fill="#a59bc5"/>
<rect x="511.42" y="292.61" width="32.92" height="18.59" fill="#f6f5f9"/>
<rect x="543.34" y="292.61" width="32.92" height="18.59" fill="#f4f3f8"/>
<rect x="575.26" y="292.61" width="32.92" height="18.59" fill="#f4f3f8"/>
<rect x="607.18" y="292.61" width="31.92" height="18.59" fill="#f6f5f9"/>
<rect x="319.9" y="32.4" width="319.20000000000005" height="278.8" fill="none" stroke="#777" stroke-width="1"/>
<line x1="335.86" y1="311.2" x2="335.86" y2="315.6" stroke="#555" stroke-width="1"/>
<text x="324.86" y="328.00" font-size="9.6" textLength="21.88" lengthAdjust="spacingAndGlyphs">Peak</text>
<line x1="367.78" y1="311.2" x2="367.78" y2="315.6" stroke="#555" stroke-width="1"/>
<text x="359.28" y="328.00" font-size="9.6" textLength="17.40" lengthAdjust="spacingAndGlyphs">Day</text>
<text x="364.58" y="340.90" font-size="10.8" textLength="6.60" lengthAdjust="spacingAndGlyphs">0</text>
<line x1="399.70" y1="311.2" x2="399.70" y2="315.6" stroke="#555" stroke-width="1"/>
<text x="391.20" y="328.00" font-size="9.6" textLength="17.40" lengthAdjust="spacingAndGlyphs">Day</text>
<text x="396.58" y="340.90" font-size="10.8" textLength="8.22" lengthAdjust="spacingAndGlyphs">1</text>
<line x1="431.62" y1="311.2" x2="431.62" y2="315.6" stroke="#555" stroke-width="1"/>
<text x="423.12" y="328.00" font-size="9.6" textLength="17.40" lengthAdjust="spacingAndGlyphs">Day</text>
<text x="428.92" y="340.90" font-size="10.8" textLength="5.60" lengthAdjust="spacingAndGlyphs">3</text>
<line x1="463.54" y1="311.2" x2="463.54" y2="315.6" stroke="#555" stroke-width="1"/>
<text x="455.04" y="328.00" font-size="9.6" textLength="17.40" lengthAdjust="spacingAndGlyphs">Day</text>
<text x="460.54" y="340.90" font-size="10.8" textLength="6.20" lengthAdjust="spacingAndGlyphs">5</text>
<line x1="495.46" y1="311.2" x2="495.46" y2="315.6" stroke="#555" stroke-width="1"/>
<text x="486.96" y="328.00" font-size="9.6" textLength="17.40" lengthAdjust="spacingAndGlyphs">Day</text>
<text x="492.86" y="340.90" font-size="10.8" textLength="5.40" lengthAdjust="spacingAndGlyphs">7</text>
<line x1="527.38" y1="311.2" x2="527.38" y2="315.6" stroke="#555" stroke-width="1"/>
<text x="518.88" y="328.00" font-size="9.6" textLength="17.40" lengthAdjust="spacingAndGlyphs">Day</text>
<text x="521.53" y="340.90" font-size="10.8" textLength="10.95" lengthAdjust="spacingAndGlyphs">14</text>
<line x1="559.30" y1="311.2" x2="559.30" y2="315.6" stroke="#555" stroke-width="1"/>
<text x="550.80" y="328.00" font-size="9.6" textLength="17.40" lengthAdjust="spacingAndGlyphs">Day</text>
<text x="555.00" y="340.90" font-size="10.8" textLength="10.92" lengthAdjust="spacingAndGlyphs">21</text>
<line x1="591.22" y1="311.2" x2="591.22" y2="315.6" stroke="#555" stroke-width="1"/>
<text x="582.72" y="328.00" font-size="9.6" textLength="17.40" lengthAdjust="spacingAndGlyphs">Day</text>
<text x="585.82" y="340.90" font-size="10.8" textLength="11.00" lengthAdjust="spacingAndGlyphs">28</text>
<line x1="623.14" y1="311.2" x2="623.14" y2="315.6" stroke="#555" stroke-width="1"/>
<text x="614.64" y="328.00" font-size="9.6" textLength="17.40" lengthAdjust="spacingAndGlyphs">Day</text>
<text x="617.44" y="340.90" font-size="10.8" textLength="11.60" lengthAdjust="spacingAndGlyphs">49</text>
<defs><linearGradient id="cb" x1="0" y1="1" x2="0" y2="0">
<stop offset="0.0000" stop-color="#ffffff"/>
<stop offset="0.1667" stop-color="#dbd6e8"/>
<stop offset="0.3333" stop-color="#b9b0d2"/>
<stop offset="0.5000" stop-color="#998ebd"/>
<stop offset="0.6667" stop-color="#8173ac"/>
<stop offset="0.8333" stop-color="#685a99"/>
<stop offset="1.0000" stop-color="#4e4086"/>
</linearGradient></defs>
<rect x="649.5" y="32.0" width="16.399999999999977" height="278.8" fill="url(#cb)"/>
<line x1="665.5" y1="310.70" x2="669.9" y2="310.70" stroke="#858585" stroke-width="1"/>
<text x="674.70" y="314.10" font-size="9.9" textLength="4.90" lengthAdjust="spacingAndGlyphs">0</text>
<line x1="665.5" y1="264.32" x2="669.9" y2="264.32" stroke="#858585" stroke-width="1"/>
<text x="674.70" y="267.72" font-size="9.9" textLength="4.90" lengthAdjust="spacingAndGlyphs">4</text>
<line x1="665.5" y1="217.93" x2="669.9" y2="217.93" stroke="#858585" stroke-width="1"/>
<text x="674.70" y="221.33" font-size="9.9" textLength="4.90" lengthAdjust="spacingAndGlyphs">8</text>
<line x1="665.5" y1="171.55" x2="669.9" y2="171.55" stroke="#858585" stroke-width="1"/>
<text x="673.81" y="174.95" font-size="9.9" textLength="10.29" lengthAdjust="spacingAndGlyphs">12</text>
<line x1="665.5" y1="125.17" x2="669.9" y2="125.17" stroke="#858585" stroke-width="1"/>
<text x="673.81" y="128.57" font-size="9.9" textLength="10.29" lengthAdjust="spacingAndGlyphs">16</text>
<line x1="665.5" y1="78.78" x2="669.9" y2="78.78" stroke="#858585" stroke-width="1"/>
<text x="674.70" y="82.18" font-size="9.9" textLength="9.40" lengthAdjust="spacingAndGlyphs">20</text>
<line x1="665.5" y1="32.40" x2="669.9" y2="32.40" stroke="#858585" stroke-width="1"/>
<text x="674.70" y="35.80" font-size="9.9" textLength="9.40" lengthAdjust="spacingAndGlyphs">24</text>
<rect x="58.03" y="7" width="2.01" height="1.2" fill="#fff"/>
<rect x="61.00" y="7" width="2.00" height="1.2" fill="#fff"/>
<rect x="135.76" y="7" width="2.04" height="1.2" fill="#fff"/>
<rect x="138.77" y="7" width="2.03" height="1.2" fill="#fff"/>
<rect x="175.53" y="7" width="2.04" height="1.2" fill="#fff"/>
<rect x="178.53" y="7" width="2.03" height="1.2" fill="#fff"/>
<rect x="301.05" y="45" width="1.56" height="1.2" fill="#fff"/>
<rect x="303.36" y="45" width="1.56" height="1.2" fill="#fff"/>
<rect x="294.53" y="119" width="1.56" height="1.2" fill="#fff"/>
<rect x="296.84" y="119" width="1.56" height="1.2" fill="#fff"/>
<rect x="300.30" y="249" width="1.70" height="1.2" fill="#fff"/>
<rect x="302.82" y="249" width="1.70" height="1.2" fill="#fff"/>
<rect x="300.31" y="267" width="1.70" height="1.2" fill="#fff"/>
<rect x="302.83" y="267" width="1.70" height="1.2" fill="#fff"/>
<rect x="397.30" y="340" width="2.94" height="1.2" fill="#fff"/>
<rect x="401.65" y="340" width="2.94" height="1.2" fill="#fff"/>
<rect x="522.01" y="340" width="1.96" height="1.2" fill="#fff"/>
<rect x="524.91" y="340" width="1.96" height="1.2" fill="#fff"/>
<rect x="560.94" y="340" width="1.96" height="1.2" fill="#fff"/>
<rect x="563.83" y="340" width="1.95" height="1.2" fill="#fff"/>
<rect x="674.26" y="174" width="1.84" height="1.2" fill="#fff"/>
<rect x="676.99" y="174" width="1.84" height="1.2" fill="#fff"/>
<rect x="674.26" y="128" width="1.84" height="1.2" fill="#fff"/>
<rect x="676.99" y="128" width="1.84" height="1.2" fill="#fff"/>
</svg>
</body></html>
